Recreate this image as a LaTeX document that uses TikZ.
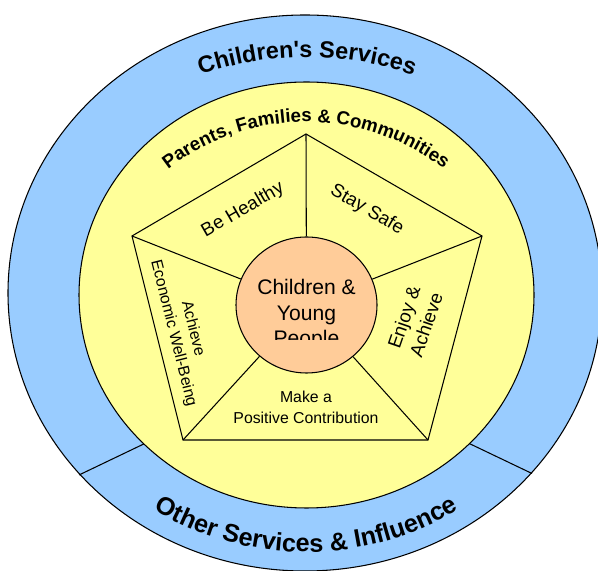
\documentclass[tikz,border=0pt]{standalone}
\usepackage{fontspec}
\setmainfont{Liberation Sans}
\usetikzlibrary{shapes.geometric,decorations.text}

\definecolor{ringblue}{HTML}{99CCFF}
\definecolor{discyellow}{HTML}{FFFF99}
\definecolor{kidorange}{HTML}{FFCC99}

\begin{document}
\begin{tikzpicture}[x=0.03cm, y=0.03cm, line width=0.9pt,
    outcome/.style={font=\fontsize{16}{20}\selectfont, align=center, inner sep=0pt},
    smalloutcome/.style={font=\fontsize{13.5}{17}\selectfont, align=center, inner sep=0pt},
    ringtext/.style={decorate, decoration={text along path, text align=center, text={#1}}}]

    % Fix the page size, the outer ring runs off the right and bottom edges
    \useasboundingbox (0,0) rectangle (598,571);
    \fill[white] (0,0) rectangle (598,571);
    \clip (0,0) rectangle (598,571);

    % Centre of the outer ring and of the yellow disc
    \coordinate (O) at (305,278);
    \coordinate (Y) at (306.5,276);

    % Outer blue ring
    \draw[fill=ringblue] (O) ellipse [x radius=297, y radius=278];

    % The two lines that split the ring into an upper and a lower part
    \coordinate (L1) at (79,96);
    \coordinate (L2) at (150,130);
    \coordinate (R1) at (532,97.5);
    \coordinate (R2) at (464,130);
    \draw (L1) -- (L2);
    \draw (R1) -- (R2);

    % Yellow disc
    \draw[fill=discyellow] (Y) ellipse [x radius=227.5, y radius=213];

    % Vertices of the pentagon, A is the top one, then clockwise
    \coordinate (A) at (306,437);
    \coordinate (B) at (482,335);
    \coordinate (C) at (428,131);
    \coordinate (D) at (183,131);
    \coordinate (E) at (132,335);
    \draw (A) -- (B) -- (C) -- (D) -- (E) -- cycle;

    % Centre disc and the five spokes to it
    \node[ellipse, draw, fill=kidorange, minimum width=4.23cm, minimum height=4.08cm, inner sep=0pt] (kid) at (306.5,266) {};
    \foreach \v in {A,B,C,D,E}
        \draw (\v) -- (kid);

    % Text of the centre disc, cut off at the bottom as in the image
    \begin{scope}
        \clip (236,231) rectangle (377,335);
        \node[font=\fontsize{18}{21.8}\selectfont, align=center, inner sep=0pt] (kidtext) at (306.5,256) {Children \&\\Young\\People};
    \end{scope}

    % The five outcomes
    \node[outcome, rotate=30] (healthy) at (243,361) {Be Healthy};
    \node[outcome, rotate=-30] (safe) at (367,361) {Stay Safe};
    \node[outcome, rotate=71] (enjoy) at (415,250) {Enjoy \&\\Achieve};
    \node[smalloutcome, rotate=-76] (wellbeing) at (183,240) {Achieve\\Economic Well-Being};
    \node[smalloutcome, font=\fontsize{13.5}{18}\selectfont] (contrib) at (306,163.5) {Make a\\Positive Contribution};

    % Curved titles
    \coordinate (topc) at (307,194);
    \coordinate (midc) at (306,224);
    \coordinate (botc) at (306,315);
    \path[ringtext={|\bfseries\fontsize{20}{24}\selectfont|Children{\textquotesingle}s Services}]
        ([shift={(130:320)}]topc) arc[start angle=130, end angle=50, radius=320];
    \path[ringtext={|\bfseries\fontsize{16}{19}\selectfont|Parents, Families {\&} Communities}]
        ([shift={(145:225)}]midc) arc[start angle=145, end angle=35, radius=225];
    \path[ringtext={|\bfseries\fontsize{21.5}{25}\selectfont|Other Services {\&} Influence}]
        ([shift={(225:296)}]botc) arc[start angle=225, end angle=315, radius=296];

\end{tikzpicture}
\end{document}
